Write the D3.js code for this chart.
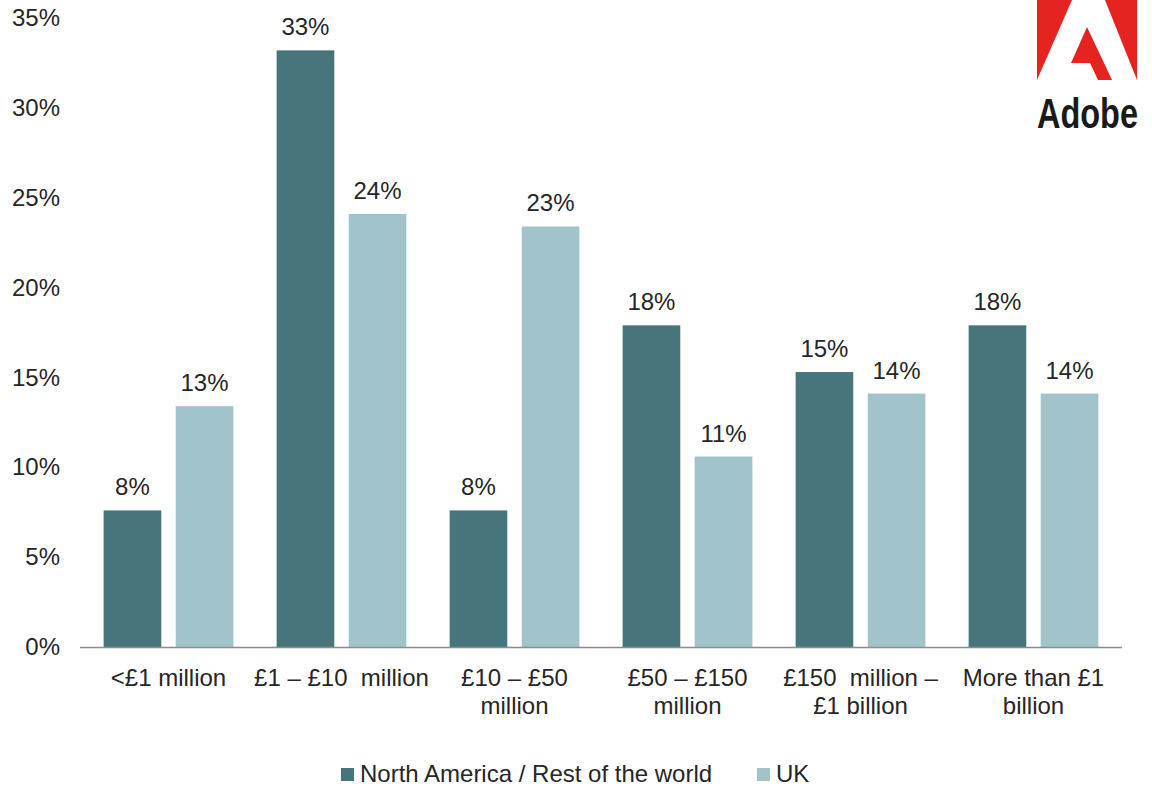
<!DOCTYPE html>
<html>
<head>
<meta charset="utf-8">
<script src="https://cdn.jsdelivr.net/npm/d3@7"></script>
<style>
  html, body { margin: 0; padding: 0; background: #ffffff; }
  svg { display: block; font-family: "Liberation Sans", Arial, sans-serif; }
</style>
</head>
<body>
<svg id="chart" width="1152" height="787"></svg>
<script>
// ---- data ----
const categories = [
  ["<£1 million"],
  ["£1 – £10  million"],
  ["£10 – £50", "million"],
  ["£50 – £150", "million"],
  ["£150  million –", "£1 billion"],
  ["More than £1", "billion"]
];
const seriesNames = ["North America / Rest of the world", "UK"];
const northAmerica = [7.6, 33.2, 7.6, 17.9, 15.3, 17.9];
const uk = [13.4, 24.1, 23.4, 10.6, 14.1, 14.1];
const valueLabels = [
  ["8%", "33%", "8%", "18%", "15%", "18%"],
  ["13%", "24%", "23%", "11%", "14%", "14%"]
];
const yTicks = [0, 5, 10, 15, 20, 25, 30, 35];
const colors = ["#46767c", "#a0c4ca"];

// ---- layout ----
const FS = 24;
const svg = d3.select("#chart");
const y = d3.scaleLinear().domain([0, 35]).range([647, 18]);
const x0 = d3.scaleBand().domain(d3.range(categories.length))
  .range([82, 1120]).paddingInner(0.25).paddingOuter(0.125);
const x1 = d3.scaleBand().domain([0, 1]).range([0, x0.bandwidth()]).paddingInner(0.2);

const series = [northAmerica, uk];
const textColor = "#262626";

// y axis labels
const yAxis = d3.axisLeft(y).tickValues(yTicks).tickFormat(d => d + "%").tickSize(0).tickPadding(0);
const gy = svg.append("g").attr("transform", "translate(60,0)").call(yAxis);
gy.select(".domain").remove();
gy.selectAll("text").attr("font-size", FS).attr("fill", textColor)
  .attr("font-family", "Liberation Sans, Arial, sans-serif");

// bars
const groups = svg.append("g").selectAll("g").data(categories).join("g")
  .attr("transform", (d, i) => `translate(${x0(i)},0)`);

series.forEach((vals, s) => {
  groups.append("rect")
    .attr("x", x1(s))
    .attr("width", x1.bandwidth())
    .attr("y", (d, i) => y(vals[i]))
    .attr("height", (d, i) => y(0) - y(vals[i]))
    .attr("fill", colors[s]);
  groups.append("text")
    .attr("x", x1(s) + x1.bandwidth() / 2)
    .attr("y", (d, i) => y(vals[i]) - 15)
    .attr("text-anchor", "middle")
    .attr("font-size", FS)
    .attr("fill", textColor)
    .text((d, i) => valueLabels[s][i]);
});

// x axis line
const xAxis = d3.axisBottom(x0).tickSize(0).tickFormat("");
const gx = svg.append("g").attr("transform", `translate(0,${y(0)})`).call(xAxis);
gx.select(".domain").attr("d", "M80,0.5H1122").attr("stroke", "#8c8c8c").attr("stroke-width", 1.5);

// category labels
groups.append("text")
  .attr("x", x0.bandwidth() / 2)
  .attr("y", 686)
  .attr("text-anchor", "middle")
  .attr("font-size", FS)
  .attr("fill", textColor)
  .selectAll("tspan").data(d => d).join("tspan")
  .attr("x", x0.bandwidth() / 2)
  .attr("dy", (d, i) => i === 0 ? 0 : 28)
  .attr("xml:space", "preserve")
  .style("white-space", "pre")
  .text(d => d);

// legend
const legendX = [341, 757];
const legend = svg.append("g").selectAll("g").data(seriesNames).join("g")
  .attr("transform", (d, i) => `translate(${legendX[i]},0)`);
legend.append("rect").attr("x", 0).attr("y", 768).attr("width", 13).attr("height", 13)
  .attr("fill", (d, i) => colors[i]);
legend.append("text").attr("x", 19).attr("y", 782).attr("font-size", FS)
  .attr("fill", textColor).text(d => d);

// Adobe logo
const logo = svg.append("g");
logo.append("path").attr("d", "M1037,0H1072L1037,80Z").attr("fill", "#e52421");
logo.append("path").attr("d", "M1105,0H1137V80Z").attr("fill", "#e52421");
logo.append("path").attr("d", "M1087,27L1071,63H1090L1098,80H1112Z").attr("fill", "#e52421");
logo.append("text").attr("x", 1037).attr("y", 128)
  .attr("font-size", 42).attr("font-weight", "bold").attr("fill", "#1a1a1a")
  .attr("font-family", "Liberation Sans Narrow, Liberation Sans, Arial, sans-serif")
  .attr("textLength", 101).attr("lengthAdjust", "spacingAndGlyphs")
  .text("Adobe");
</script>
</body>
</html>
